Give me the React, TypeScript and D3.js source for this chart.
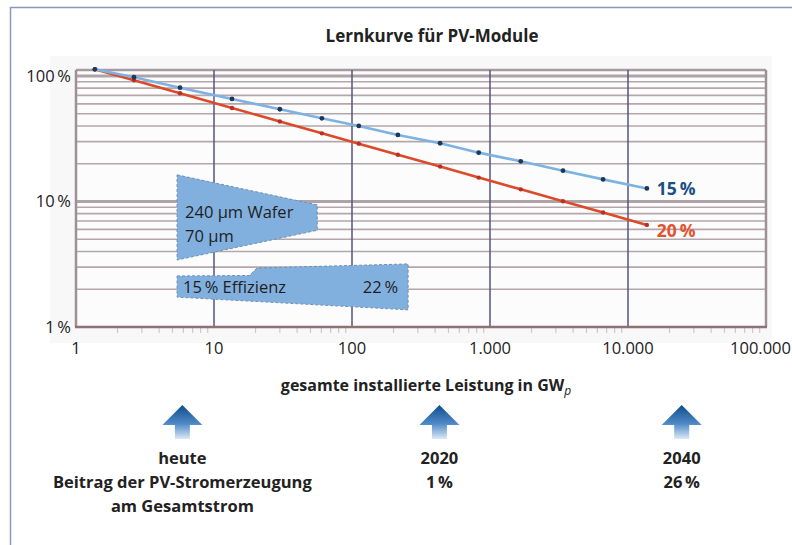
import { useEffect, useRef } from 'react';
import { select, scaleLog, line, range } from 'd3';

// installierte Leistung (GWp) an den Messpunkten
const capacity = [1.37, 2.63, 5.67, 13.5, 30, 60.5, 112, 215, 435, 828, 1670, 3380, 6600, 13700];
// Modulpreis relativ (%), Lernrate 15 % bzw. 20 %
const curve15 = [113, 97.7, 80.7, 65.6, 54.3, 46.0, 40.0, 33.9, 29.1, 24.5, 20.9, 17.6, 15.0, 12.7];
const curve20 = [113, 92.4, 72.8, 55.6, 43.4, 34.9, 28.9, 23.6, 19.0, 15.5, 12.5, 10.05, 8.17, 6.51];

const xTicks = [1, 10, 100, 1000, 10000, 100000];
const xTickLabels = ['1', '10', '100', '1.000', '10.000', '100.000'];
const yTicks = [1, 10, 100];
const yTickLabels = ['1\u2009%', '10\u2009%', '100\u2009%'];

// Meilensteine unter der Achse
const milestoneX = [5.9, 430, 24500];
const milestoneLines = [
  ['heute', 'Beitrag der PV-Stromerzeugung', 'am Gesamtstrom'],
  ['2020', '1\u2009%'],
  ['2040', '26\u2009%'],
];

// Annotationen (Datenkoordinaten): [x, y] Eckpunkte
const waferShape: [number, number][] = [[5.4, 16.3], [56, 9.4], [56, 5.9], [5.4, 3.42]];
const effShape: [number, number][] = [[5.4, 2.55], [18, 2.57], [20.5, 2.95], [255, 3.18], [255, 1.37], [5.4, 1.73]];

export default function App() {
  const svgRef = useRef<SVGSVGElement>(null);

  useEffect(() => {
    const width = 792;
    const height = 545;
    const font = '"Open Sans", "Noto Sans", sans-serif';

    const svg = select(svgRef.current);
    svg.selectAll('*').remove();
    svg.attr('width', width).attr('height', height).style('font-family', font);

    const x = scaleLog().domain([1, 100000]).range([76, 766]);
    const y = scaleLog().domain([1, 111.6]).range([327, 70]);

    // Rahmen
    svg.append('rect').attr('width', width).attr('height', height).attr('fill', '#fff');
    svg.append('path')
      .attr('d', `M10.5,${height} V7.5 H${width}`)
      .attr('fill', 'none')
      .attr('stroke', '#8d96bc')
      .attr('stroke-width', 1.5);

    // Hintergrund Diagramm
    svg.append('rect')
      .attr('x', 50).attr('y', 56).attr('width', 722).attr('height', 287)
      .attr('fill', '#f8f8f8');
    svg.append('rect')
      .attr('x', x(1)).attr('y', y(111.6))
      .attr('width', x(100000) - x(1)).attr('height', y(1) - y(111.6))
      .attr('fill', '#fcfcfc');

    svg.append('text')
      .attr('x', 432).attr('y', 42)
      .attr('text-anchor', 'middle')
      .attr('font-size', 17).attr('font-weight', 700).attr('fill', '#222')
      .text('Lernkurve für PV-Module');

    // horizontale Gitterlinien
    const minorY = [...range(2, 10).map((d) => d), ...range(2, 10).map((d) => d * 10)];
    svg.append('g').selectAll('line').data(minorY).enter().append('line')
      .attr('x1', x(1)).attr('x2', x(100000))
      .attr('y1', (d) => y(d)).attr('y2', (d) => y(d))
      .attr('stroke', '#b4a7ab').attr('stroke-width', 1.6);
    svg.append('g').selectAll('line').data([10, 100]).enter().append('line')
      .attr('x1', x(1)).attr('x2', x(100000))
      .attr('y1', (d) => y(d)).attr('y2', (d) => y(d))
      .attr('stroke', '#b0a3a8').attr('stroke-width', 3);
    svg.append('line')
      .attr('x1', x(1)).attr('x2', x(100000))
      .attr('y1', y(111.6)).attr('y2', y(111.6))
      .attr('stroke', '#a59aa0').attr('stroke-width', 2.5);

    // vertikale Gitterlinien
    svg.append('g').selectAll('line').data(xTicks.slice(1, -1)).enter().append('line')
      .attr('x1', (d) => x(d)).attr('x2', (d) => x(d))
      .attr('y1', y(111.6)).attr('y2', y(1))
      .attr('stroke', '#55557e').attr('stroke-width', 1.5);
    svg.append('g').selectAll('line').data([1, 100000]).enter().append('line')
      .attr('x1', (d) => x(d)).attr('x2', (d) => x(d))
      .attr('y1', y(111.6)).attr('y2', y(1))
      .attr('stroke', '#9d9098').attr('stroke-width', 2.5);

    // kleine Teilstriche unter der x-Achse
    const minorX = range(0, 5).flatMap((k) => range(2, 10).map((m) => m * Math.pow(10, k)));
    svg.append('g').selectAll('line').data(minorX).enter().append('line')
      .attr('x1', (d) => x(d)).attr('x2', (d) => x(d))
      .attr('y1', y(1)).attr('y2', y(1) + 6)
      .attr('stroke', '#d2c8ca').attr('stroke-width', 1.2);

    svg.append('line')
      .attr('x1', x(1) - 1).attr('x2', x(100000) + 1)
      .attr('y1', y(1)).attr('y2', y(1))
      .attr('stroke', '#8c7275').attr('stroke-width', 2.5);

    // Achsenbeschriftung
    svg.append('g').selectAll('text').data(xTicks).enter().append('text')
      .attr('x', (d, i) => (i === xTicks.length - 1 ? 791 : x(d))).attr('y', 354)
      .attr('text-anchor', (_, i) => (i === xTicks.length - 1 ? 'end' : 'middle'))
      .attr('font-size', 16.5).attr('fill', '#222')
      .text((_, i) => xTickLabels[i]);
    svg.append('g').selectAll('text').data(yTicks).enter().append('text')
      .attr('x', 71).attr('y', (d) => y(d) + 6)
      .attr('text-anchor', 'end')
      .attr('font-size', 16.5).attr('fill', '#222')
      .text((_, i) => yTickLabels[i]);

    const xTitle = svg.append('text')
      .attr('x', 426).attr('y', 391)
      .attr('text-anchor', 'middle')
      .attr('font-size', 16).attr('font-weight', 700).attr('fill', '#222');
    xTitle.append('tspan').text('gesamte installierte Leistung in GW');
    xTitle.append('tspan').attr('dy', 4).attr('font-size', 12).attr('font-style', 'italic').attr('font-weight', 400).text('p');

    // Annotationen
    const poly = (pts: [number, number][]) => pts.map(([a, b]) => `${x(a)},${y(b)}`).join(' ');
    svg.append('polygon')
      .attr('points', poly(waferShape))
      .attr('fill', '#82b0de').attr('stroke', '#6f8fb3')
      .attr('stroke-width', 1).attr('stroke-dasharray', '3,2');
    svg.append('polygon')
      .attr('points', poly(effShape))
      .attr('fill', '#82b0de').attr('stroke', '#6f8fb3')
      .attr('stroke-width', 1).attr('stroke-dasharray', '3,2');

    const annText = svg.append('g').attr('font-size', 16.5).attr('fill', '#1e1e1e');
    annText.append('text').attr('x', x(5.4) + 8).attr('y', 218).text('240 μm Wafer');
    annText.append('text').attr('x', x(5.4) + 8).attr('y', 242).text('70 μm');
    annText.append('text').attr('x', x(5.4) + 6).attr('y', 293).text('15\u2009% Effizienz');
    annText.append('text').attr('x', x(255) - 10).attr('y', 293).attr('text-anchor', 'end').text('22\u2009%');

    // Lernkurven
    const lineGen = line<number>()
      .x((_, i) => x(capacity[i]))
      .y((d) => y(d));

    svg.append('path')
      .attr('d', lineGen(curve20))
      .attr('fill', 'none').attr('stroke', '#dc4a2a').attr('stroke-width', 2.6);
    svg.append('g').selectAll('circle').data(curve20).enter().append('circle')
      .attr('cx', (_, i) => x(capacity[i])).attr('cy', (d) => y(d))
      .attr('r', 2.2).attr('fill', '#b8321f');

    svg.append('path')
      .attr('d', lineGen(curve15))
      .attr('fill', 'none').attr('stroke', '#7db2e2').attr('stroke-width', 2.6);
    svg.append('g').selectAll('circle').data(curve15).enter().append('circle')
      .attr('cx', (_, i) => x(capacity[i])).attr('cy', (d) => y(d))
      .attr('r', 2.4).attr('fill', '#1f3655');

    const last = capacity.length - 1;
    svg.append('text')
      .attr('x', x(capacity[last]) + 10).attr('y', y(curve15[last]) + 7)
      .attr('font-size', 17.5).attr('font-weight', 700).attr('fill', '#1b4f86')
      .text('15\u2009%');
    svg.append('text')
      .attr('x', x(capacity[last]) + 10).attr('y', y(curve20[last]) + 12)
      .attr('font-size', 17.5).attr('font-weight', 700).attr('fill', '#e2532e')
      .text('20\u2009%');

    // Pfeile
    const defs = svg.append('defs');
    const grad = defs.append('linearGradient')
      .attr('id', 'arrowGrad').attr('x1', 0).attr('y1', 0).attr('x2', 0).attr('y2', 1);
    grad.append('stop').attr('offset', '0%').attr('stop-color', '#0f4c8c');
    grad.append('stop').attr('offset', '55%').attr('stop-color', '#4f8ac6');
    grad.append('stop').attr('offset', '100%').attr('stop-color', '#dce9f6');

    const arrows = svg.append('g').selectAll('g').data(milestoneX).enter().append('g')
      .attr('transform', (d) => `translate(${x(d)},405)`);
    arrows.append('path')
      .attr('d', 'M0,0 L20,20 L7.5,20 L7.5,34 L-7.5,34 L-7.5,20 L-20,20 Z')
      .attr('fill', 'url(#arrowGrad)');

    const labels = svg.append('g').selectAll('text').data(milestoneX).enter().append('text')
      .attr('x', (d) => x(d)).attr('y', 464)
      .attr('text-anchor', 'middle')
      .attr('font-size', 16.5).attr('font-weight', 700).attr('fill', '#222');
    labels.each(function (d, i) {
      const t = select(this);
      milestoneLines[i].forEach((s, j) => {
        t.append('tspan').attr('x', x(d)).attr('dy', j === 0 ? 0 : 24).text(s);
      });
    });
  }, []);

  return (
    <div style={{ position: 'absolute', left: 0, top: 0 }}>
      <svg ref={svgRef}></svg>
    </div>
  );
}
